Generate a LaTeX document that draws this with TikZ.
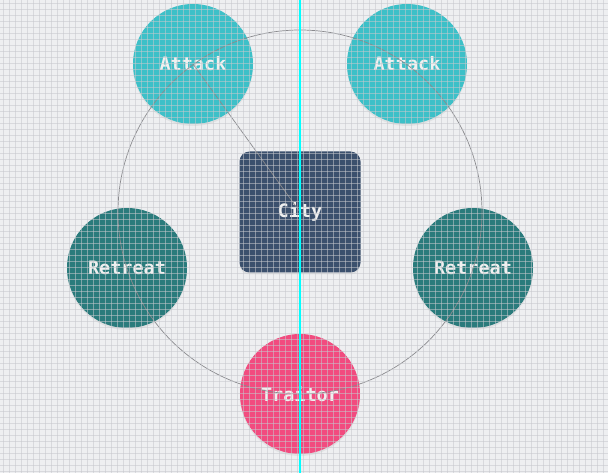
\documentclass[tikz,border=0pt]{standalone}
\usepackage{fontspec}
\newfontfamily\nodefont{DejaVu Sans Mono Bold}
\usepackage{tikz}
\usetikzlibrary{shadows}
\definecolor{paperbg}{HTML}{EEEFF1}
\definecolor{gridline}{HTML}{C6C8CD}
\definecolor{attackcol}{HTML}{3DC0C8}
\definecolor{retreatcol}{HTML}{2A7B7C}
\definecolor{citycol}{HTML}{3B506D}
\definecolor{traitorcol}{HTML}{F24B7F}
\definecolor{ringcol}{HTML}{8A8A8E}
\definecolor{guidecol}{HTML}{00FFFF}
\tikzset{
  general/.style={circle, minimum size=120pt, inner sep=0pt, text=white!94!black,
    font=\nodefont\fontsize{18.5}{20}\selectfont,
    drop shadow={opacity=0.12, shadow xshift=0pt, shadow yshift=-2pt}},
  attack/.style={general, fill=attackcol},
  retreat/.style={general, fill=retreatcol},
  traitor/.style={general, fill=traitorcol},
  city/.style={general, rectangle, rounded corners=10pt, minimum size=121pt, fill=citycol},
}

\begin{document}
\begin{tikzpicture}[x=1pt, y=-1pt]
\fill[paperbg] (0,0) rectangle (608,473);
\useasboundingbox (0,0) rectangle (608,473);
% nodes
\node[city] (city) at (300,212) {City};
\node[attack] (atkl) at (193,64) {Attack};
\node[attack] (atkr) at (407,64) {Attack};
\node[retreat] (retl) at (127,268) {Retreat};
\node[retreat] (retr) at (473,268) {Retreat};
\node[traitor] (trait) at (300,394) {Traitor};
% ring and message
\draw[ringcol, line width=0.7pt] (city.center) circle (182);
\draw[ringcol, line width=0.7pt] (atkl.center) -- (city.center);
% grid overlay
\foreach \gx in {3,9,...,603}
  \draw[gridline, opacity=0.55, line width=0.9pt] (\gx,0) -- (\gx,473);
\foreach \gy in {3,9,...,471}
  \draw[gridline, opacity=0.55, line width=0.9pt] (0,\gy) -- (608,\gy);
\draw[guidecol, line width=1.6pt] (300,0) -- (300,473);
\end{tikzpicture}
\end{document}
